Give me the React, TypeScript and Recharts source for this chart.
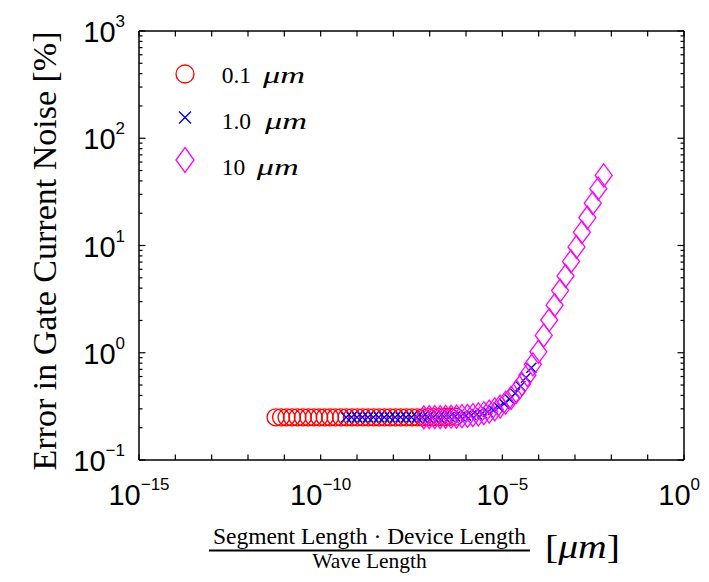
import React from 'react';
import { ScatterChart, Scatter, XAxis, YAxis, Legend } from 'recharts';

// ---- data ----
const seriesLabels = ['0.1', '1.0', '10'];
const seriesColors = ['#ff0000', '#0000ff', '#ff00ff'];
const seriesMarkers = ['circle', 'x', 'diamond'];

const redX = [5.75e-12, 8.13e-12, 1.15e-11, 1.62e-11, 2.29e-11, 3.24e-11, 4.57e-11, 6.46e-11, 9.12e-11, 1.29e-10, 1.82e-10, 2.57e-10, 3.63e-10, 5.13e-10, 7.24e-10, 1.02e-9, 1.45e-9, 2.04e-9, 2.88e-9, 4.07e-9, 5.75e-9, 8.13e-9, 1.15e-8, 1.62e-8, 2.29e-8, 3.24e-8, 4.57e-8, 6.46e-8, 9.12e-8, 1.29e-7, 1.82e-7, 2.57e-7, 3.63e-7, 5.13e-7];
const redY = [0.25, 0.25, 0.25, 0.25, 0.25, 0.25, 0.25, 0.25, 0.25, 0.25, 0.25, 0.25, 0.25, 0.25, 0.25, 0.25, 0.25, 0.25, 0.25, 0.25, 0.25, 0.25, 0.25, 0.25, 0.25, 0.25, 0.25, 0.25, 0.251, 0.251, 0.251, 0.252, 0.253, 0.254];

const blueX = [5.01e-10, 7.08e-10, 1.0e-9, 1.41e-9, 2.0e-9, 2.82e-9, 3.98e-9, 5.62e-9, 7.94e-9, 1.12e-8, 1.58e-8, 2.24e-8, 3.16e-8, 4.47e-8, 6.31e-8, 8.91e-8, 1.26e-7, 1.78e-7, 2.51e-7, 3.55e-7, 5.01e-7, 7.08e-7, 1.0e-6, 1.41e-6, 2.0e-6, 2.82e-6, 3.98e-6, 5.62e-6, 7.94e-6, 1.12e-5, 1.58e-5, 2.24e-5, 3.16e-5, 4.47e-5, 6.31e-5];
const blueY = [0.25, 0.25, 0.25, 0.25, 0.25, 0.25, 0.25, 0.25, 0.25, 0.25, 0.25, 0.25, 0.25, 0.25, 0.25, 0.25, 0.251, 0.251, 0.252, 0.253, 0.254, 0.255, 0.258, 0.261, 0.265, 0.271, 0.28, 0.292, 0.31, 0.334, 0.369, 0.418, 0.487, 0.585, 0.723];

const magentaX = [6.92e-8, 9.77e-8, 1.38e-7, 1.95e-7, 2.75e-7, 3.89e-7, 5.5e-7, 7.76e-7, 1.1e-6, 1.55e-6, 2.19e-6, 3.09e-6, 4.37e-6, 6.17e-6, 8.71e-6, 1.23e-5, 1.74e-5, 2.45e-5, 3.47e-5, 4.9e-5, 6.92e-5, 9.77e-5, 1.38e-4, 1.95e-4, 2.75e-4, 3.89e-4, 5.5e-4, 7.76e-4, 1.1e-3, 1.55e-3, 2.19e-3, 3.09e-3, 4.37e-3, 6.17e-3];
const magentaY = [0.25, 0.251, 0.251, 0.251, 0.252, 0.253, 0.254, 0.256, 0.258, 0.262, 0.266, 0.273, 0.283, 0.296, 0.315, 0.342, 0.38, 0.434, 0.51, 0.618, 0.78, 1.02, 1.45, 2.02, 2.78, 3.8, 5.2, 7.1, 9.7, 13.3, 18.2, 24.8, 33.9, 45];

const xTicks = [1e-15, 1e-14, 1e-13, 1e-12, 1e-11, 1e-10, 1e-9, 1e-8, 1e-7, 1e-6, 1e-5, 1e-4, 1e-3, 1e-2, 1e-1, 1];
const yTicks = [
  0.1, 0.2, 0.3, 0.4, 0.5, 0.6, 0.7, 0.8, 0.9,
  1, 2, 3, 4, 5, 6, 7, 8, 9,
  10, 20, 30, 40, 50, 60, 70, 80, 90,
  100, 200, 300, 400, 500, 600, 700, 800, 900,
  1000,
];
const xLabelledExponents = [-15, -10, -5, 0];

const xDomain = [1e-15, 1];
const yDomain = [0.1, 1000];

const toPoints = (xs: number[], ys: number[]) => xs.map((x, i) => ({ x, y: ys[i] }));
const seriesData = [toPoints(redX, redY), toPoints(blueX, blueY), toPoints(magentaX, magentaY)];

// ---- styling ----
const W = 693;
const H = 566;
const SANS = '"Liberation Sans", Arial, Helvetica, sans-serif';
const SERIF = '"Liberation Serif", "Times New Roman", Times, serif';

const expOf = (v: number) => Math.round(Math.log10(v));
const isDecade = (v: number) => Math.abs(Math.log10(v) - Math.round(Math.log10(v))) < 1e-9;
const expText = (e: number) => (e < 0 ? '\u2212' + String(-e) : String(e));

function Marker({ kind, cx, cy, color, big }: any) {
  if (cx == null || cy == null) return null;
  if (kind === 'circle') {
    return <circle cx={cx} cy={cy} r={big ? 9 : 8.5} fill="none" stroke={color} strokeWidth={1.3} />;
  }
  if (kind === 'x') {
    const h = big ? 6 : 5;
    return (
      <path
        d={`M${cx - h},${cy - h}L${cx + h},${cy + h}M${cx - h},${cy + h}L${cx + h},${cy - h}`}
        stroke={color}
        strokeWidth={1.4}
        fill="none"
      />
    );
  }
  const hw = big ? 9 : 8.5;
  const hh = big ? 12.5 : 11.5;
  return (
    <path
      d={`M${cx},${cy - hh}L${cx + hw},${cy}L${cx},${cy + hh}L${cx - hw},${cy}Z`}
      stroke={color}
      strokeWidth={1.3}
      fill="none"
    />
  );
}

function PowLabel({ x, y, e, anchor }: any) {
  return (
    <text x={x} y={y} textAnchor={anchor} fontFamily={SANS} fontSize={29} fill="#000">
      10
      <tspan dy={-15} fontSize={17}>
        {expText(e)}
      </tspan>
    </text>
  );
}

function BottomTick(props: any) {
  const { x, y, payload, index, visibleTicksCount } = props;
  const v = payload.value;
  const e = expOf(v);
  const last = index === (visibleTicksCount ?? xTicks.length) - 1;
  return (
    <g>
      <line x1={x} y1={y} x2={x} y2={y - 5.5} stroke="#000" strokeWidth={1.2} />
      {xLabelledExponents.includes(e) ? (
        last ? (
          <PowLabel x={x + 16} y={y + 45} e={e} anchor="end" />
        ) : (
          <PowLabel x={x} y={y + 45} e={e} anchor="middle" />
        )
      ) : null}
    </g>
  );
}

function TopTick(props: any) {
  const { x, y } = props;
  return <line x1={x} y1={y} x2={x} y2={y + 5.5} stroke="#000" strokeWidth={1.2} />;
}

function LeftTick(props: any) {
  const { x, y, payload } = props;
  const v = payload.value;
  const major = isDecade(v);
  return (
    <g>
      <line x1={x} y1={y} x2={x + (major ? 6.5 : 3.5)} y2={y} stroke="#000" strokeWidth={1.2} />
      {major ? <PowLabel x={x - 14} y={y + 11} e={expOf(v)} anchor="end" /> : null}
    </g>
  );
}

function RightTick(props: any) {
  const { x, y, payload } = props;
  const major = isDecade(payload.value);
  return <line x1={x} y1={y} x2={x - (major ? 6.5 : 3.5)} y2={y} stroke="#000" strokeWidth={1.2} />;
}

// legend rows (local legend box coordinates)
const legendMarkerY = [24, 67.5, 110];
const legendTextY = [32.5, 79, 125];
const legendUnitX = [103, 105, 96.7];

function LegendContent() {
  return (
    <svg width={170} height={140} style={{ display: 'block', overflow: 'visible' }}>
      {seriesLabels.map((lab, i) => (
        <g key={lab}>
          <Marker kind={seriesMarkers[i]} cx={25} cy={legendMarkerY[i]} color={seriesColors[i]} big />
          <text x={61.7} y={legendTextY[i]} fontFamily={SERIF} fontSize={23.5} fill="#000">
            {lab}
          </text>
          <text
            x={legendUnitX[i]}
            y={legendTextY[i]}
            fontFamily={SERIF}
            fontStyle="italic"
            fontSize={23}
            fill="#000"
            textLength={42}
            lengthAdjust="spacingAndGlyphs"
          >
            μm
          </text>
        </g>
      ))}
    </svg>
  );
}

export default function App() {
  return (
    <div style={{ position: 'relative', width: W, height: H }}>
      <ScatterChart width={W} height={H} margin={{ top: 0, right: 0, bottom: 0, left: 0 }}>
        <XAxis
          xAxisId={0}
          dataKey="x"
          type="number"
          scale="log"
          domain={xDomain}
          allowDataOverflow
          ticks={xTicks}
          interval={0}
          orientation="bottom"
          height={114}
          tickSize={0}
          tickMargin={0}
          tickLine={false}
          axisLine={{ stroke: '#000', strokeWidth: 1.5 }}
          tick={BottomTick}
        />
        <XAxis
          xAxisId="t"
          dataKey="x"
          type="number"
          scale="log"
          domain={xDomain}
          allowDataOverflow
          ticks={xTicks}
          interval={0}
          orientation="top"
          height={23}
          tickSize={0}
          tickMargin={0}
          tickLine={false}
          axisLine={{ stroke: '#000', strokeWidth: 1.5 }}
          tick={TopTick}
        />
        <YAxis
          yAxisId={0}
          dataKey="y"
          type="number"
          scale="log"
          domain={yDomain}
          allowDataOverflow
          ticks={yTicks}
          interval={0}
          orientation="left"
          width={131}
          tickSize={0}
          tickMargin={0}
          tickLine={false}
          axisLine={{ stroke: '#000', strokeWidth: 1.5 }}
          tick={LeftTick}
        />
        <YAxis
          yAxisId="r"
          dataKey="y"
          type="number"
          scale="log"
          domain={yDomain}
          allowDataOverflow
          ticks={yTicks}
          interval={0}
          orientation="right"
          width={17}
          tickSize={0}
          tickMargin={0}
          tickLine={false}
          axisLine={{ stroke: '#000', strokeWidth: 1.5 }}
          tick={RightTick}
        />
        <Legend
          layout="vertical"
          align="center"
          verticalAlign="middle"
          wrapperStyle={{ left: 152, top: 42, width: 170, height: 140 }}
          content={LegendContent}
        />
        {seriesData.map((d, i) => (
          <Scatter
            key={seriesLabels[i]}
            name={seriesLabels[i] + ' μm'}
            data={d}
            xAxisId={0}
            yAxisId={0}
            fill={seriesColors[i]}
            isAnimationActive={false}
            shape={(p: any) => <Marker kind={seriesMarkers[i]} cx={p.cx} cy={p.cy} color={seriesColors[i]} />}
          />
        ))}
      </ScatterChart>
      <svg
        width={W}
        height={H}
        style={{ position: 'absolute', left: 0, top: 0, overflow: 'visible', pointerEvents: 'none' }}
      >
        <text
          transform="translate(48,243) rotate(-90)"
          textAnchor="middle"
          fontFamily={SERIF}
          fontSize={34}
          fill="#000"
        >
          Error in Gate Current Noise [%]
        </text>
        <text x={361.5} y={536} textAnchor="middle" fontFamily={SERIF} fontSize={23.5} fill="#000">
          Segment Length · Device Length
        </text>
        <line x1={201} y1={542.5} x2={522} y2={542.5} stroke="#000" strokeWidth={2} />
        <text x={361.5} y={559.5} textAnchor="middle" fontFamily={SERIF} fontSize={21.5} fill="#000">
          Wave Length
        </text>
        <text
          x={537}
          y={550}
          fontFamily={SERIF}
          fontSize={34}
          fill="#000"
          textLength={75}
          lengthAdjust="spacingAndGlyphs"
        >
          [<tspan fontStyle="italic">μm</tspan>]
        </text>
      </svg>
    </div>
  );
}
